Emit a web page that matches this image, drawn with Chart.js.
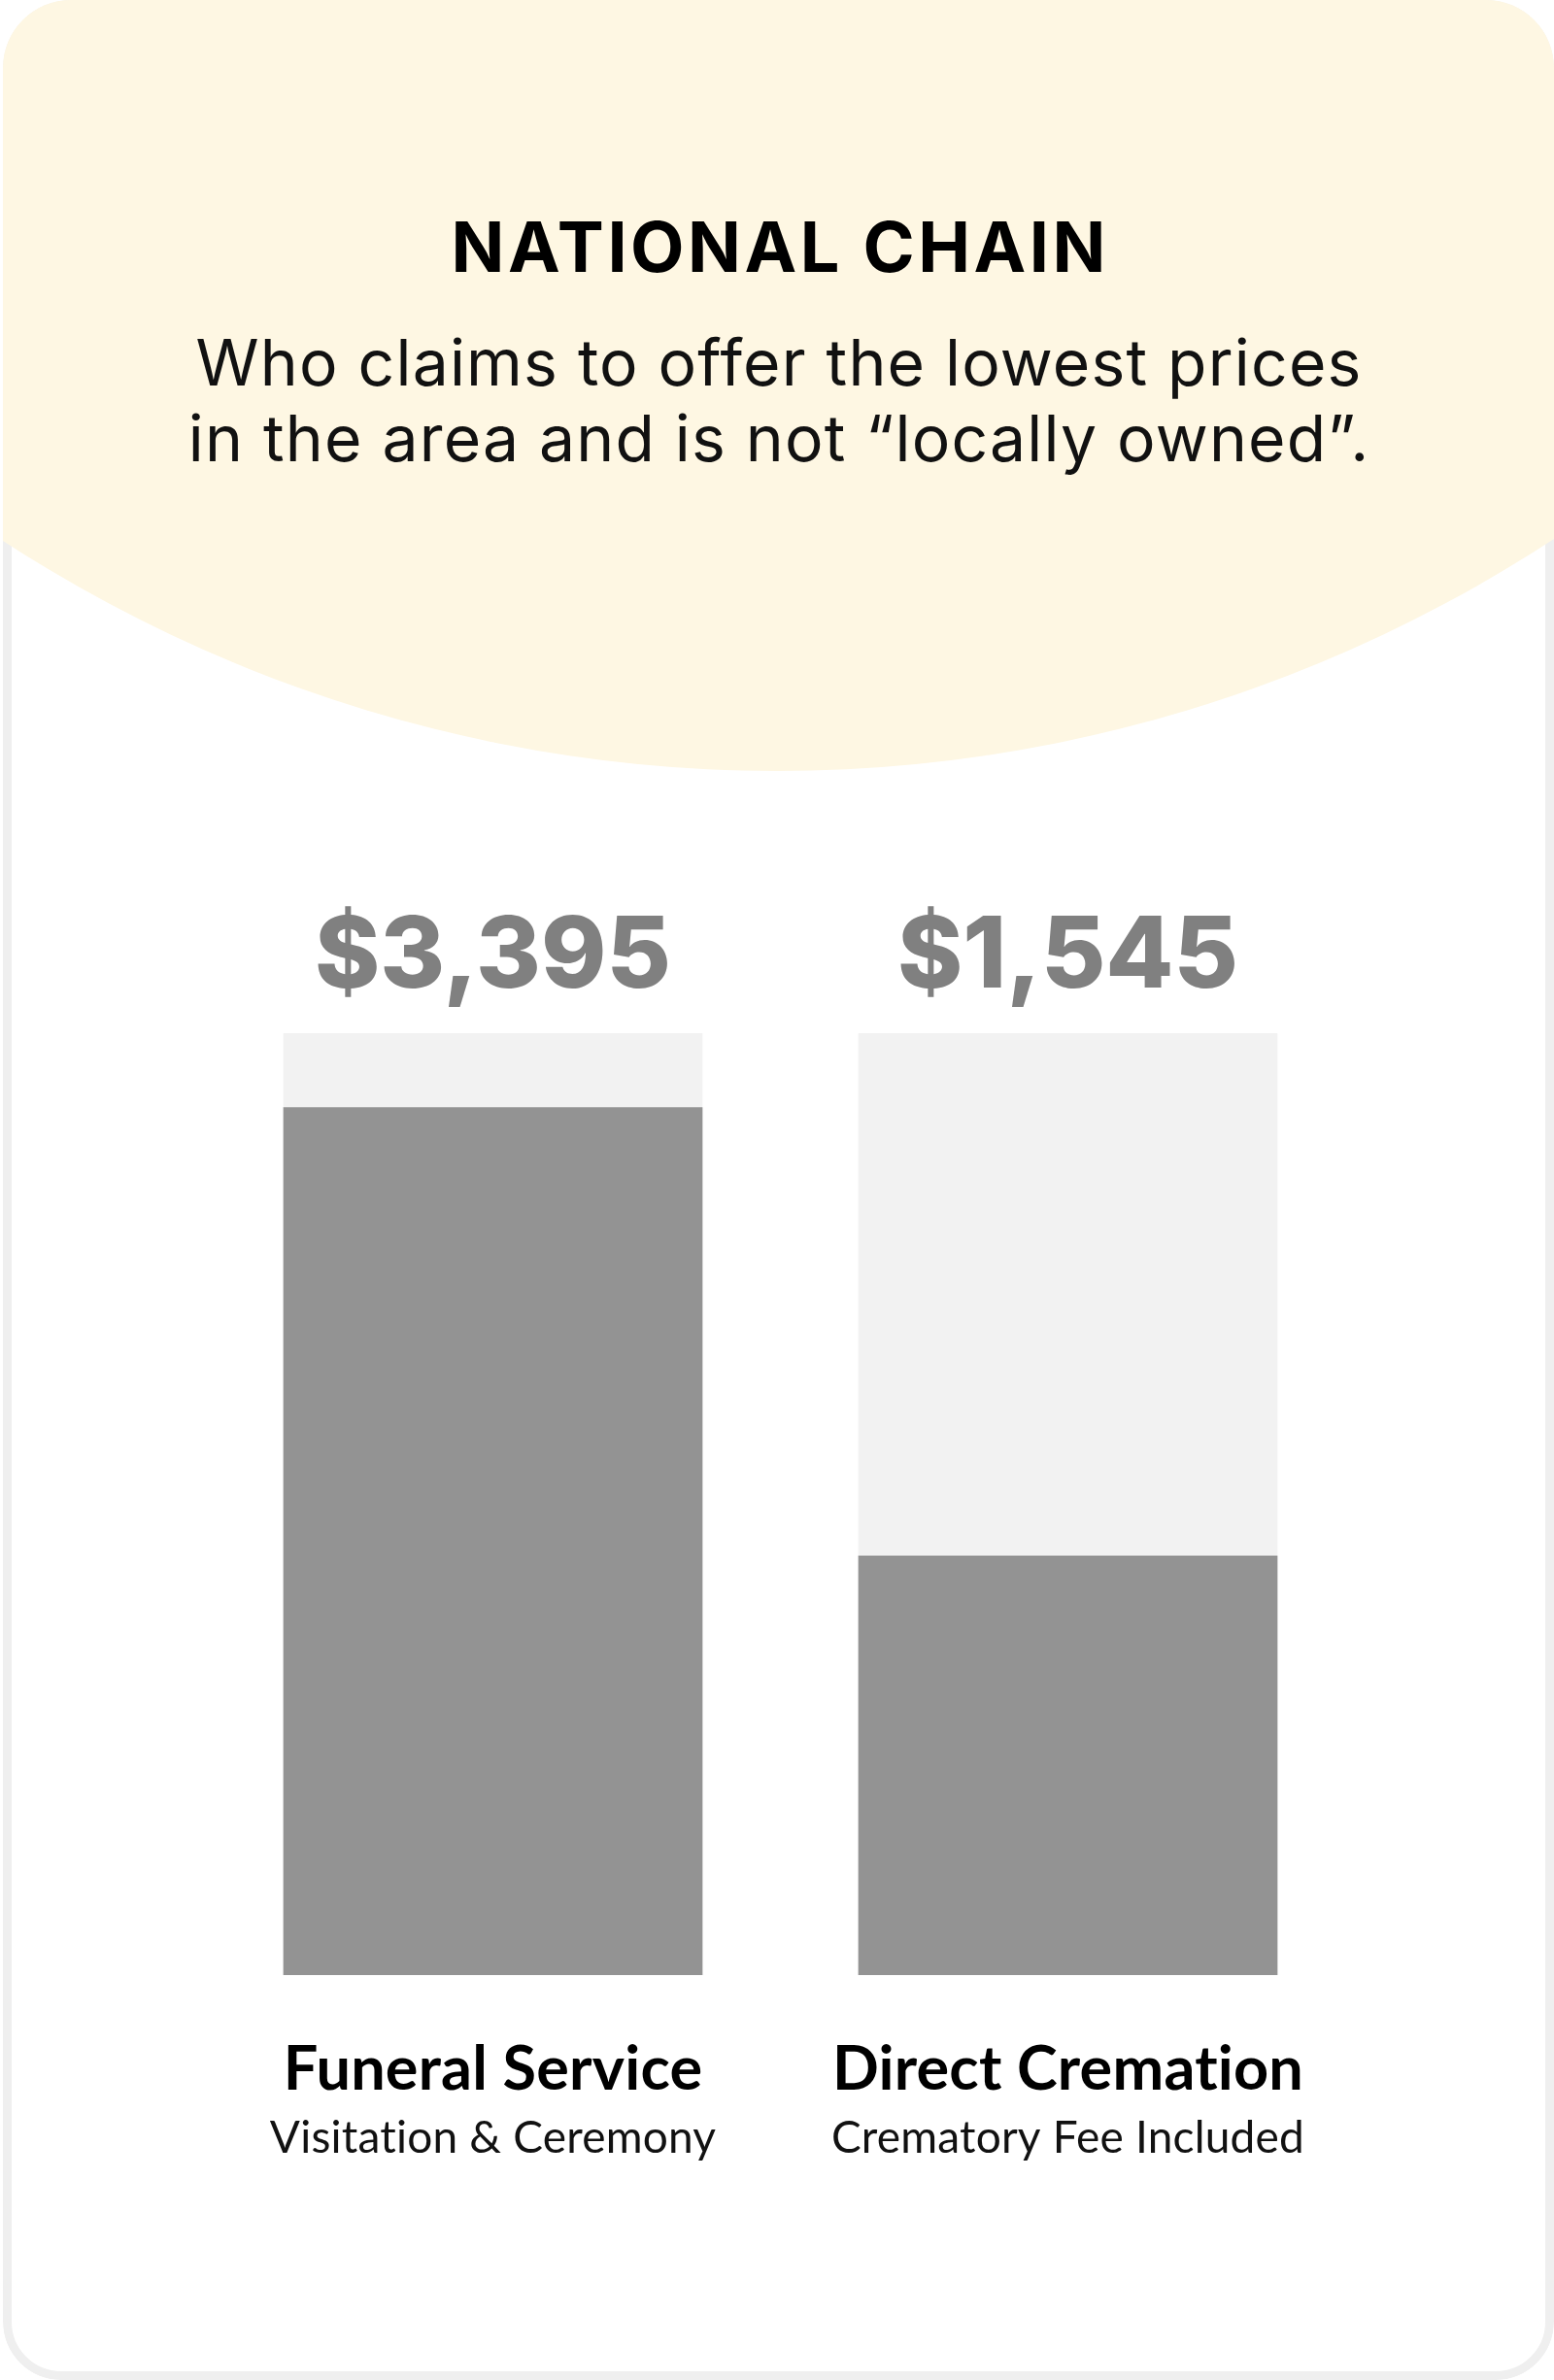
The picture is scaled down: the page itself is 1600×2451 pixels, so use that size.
<!DOCTYPE html>
<html>
<head>
<meta charset="utf-8">
<script src="https://cdn.jsdelivr.net/npm/chart.js@4"></script>
<style>
    html, body { margin:0; padding:0; background:#fff; }
    body { width:1600px; height:2451px; position:relative; overflow:hidden; }
    .card { position:absolute; left:3px; top:0; right:0; bottom:0; border-radius:70px 70px 60px 60px; overflow:hidden; background:#fff; }
    .card-border { position:absolute; inset:0; border:9px solid #efefef; border-radius:70px 70px 60px 60px; box-sizing:border-box; }
    .cream { position:absolute; left:-661px; top:-2122px; width:2916px; height:2916px; border-radius:50%; background:#fef7e3; }
    .title { position:absolute; left:0; right:0; top:218px; text-align:center; font-family:Inter, sans-serif; font-weight:700; font-size:72px; line-height:72px; letter-spacing:3.5px; padding-left:3.5px; color:#000; }
    .subtitle { position:absolute; left:0; right:0; top:334px; text-align:center; font-family:Inter, sans-serif; font-weight:400; font-size:66px; line-height:78px; letter-spacing:1.2px; padding-left:1.2px; color:#111; }
    #chart { position:absolute; left:0; top:0; }
</style>
</head>
<body>
<div class="card">
    <div class="card-border"></div>
    <div class="cream"></div>
    <div class="title">NATIONAL CHAIN</div>
    <div class="subtitle">Who claims to offer the lowest prices<br>in the area and is not “locally owned”.</div>
</div>
<canvas id="chart" width="1600" height="2451"></canvas>
<script>
// data
const categories = ['Funeral Service', 'Direct Cremation'];
const subtitles = ['Visitation & Ceremony', 'Crematory Fee Included'];
const priceLabels = ['$3,395', '$1,545'];
const fillPercent = [92.1, 44.5];   // dark bar height as % of the track
const trackPercent = [100, 100];

const dark = '#939393', light = '#f2f2f2', labelGray = '#808080';

// value labels above and category labels below each bar
const barLabels = {
    id: 'barLabels',
    afterDatasetsDraw(chart) {
        const ctx = chart.ctx;
        const x = chart.scales.x, y = chart.scales.y;
        const top = y.getPixelForValue(100), bottom = y.getPixelForValue(0);
        ctx.save();
        ctx.textAlign = 'center';
        ctx.textBaseline = 'alphabetic';
        categories.forEach((c, i) => {
            const cx = x.getPixelForValue(i);
            ctx.letterSpacing = '0px';
            ctx.fillStyle = labelGray;
            ctx.font = '800 102px Inter';
            ctx.fillText(priceLabels[i], cx, top - 47);
            ctx.letterSpacing = '0.2px';
            ctx.fillStyle = '#000';
            ctx.font = 'bold 63px Lato';
            ctx.fillText(c, cx, bottom + 118);
            ctx.fillStyle = '#111';
            ctx.font = '46px Lato';
            ctx.fillText(subtitles[i], cx, bottom + 183);
        });
        ctx.restore();
    }
};

new Chart(document.getElementById('chart'), {
    type: 'bar',
    data: {
        labels: categories,
        datasets: [
            {data: fillPercent, backgroundColor: dark, grouped: false, barThickness: 431},
            {data: trackPercent, backgroundColor: light, grouped: false, barThickness: 431}
        ]
    },
    options: {
        responsive: false,
        animation: false,
        layout: {padding: {left: 211.5, right: 204.5, top: 1064, bottom: 417}},
        plugins: {legend: {display: false}, tooltip: {enabled: false}},
        scales: {
            x: {display: false},
            y: {display: false, min: 0, max: 100}
        }
    },
    plugins: [barLabels]
});
</script>
</body>
</html>
